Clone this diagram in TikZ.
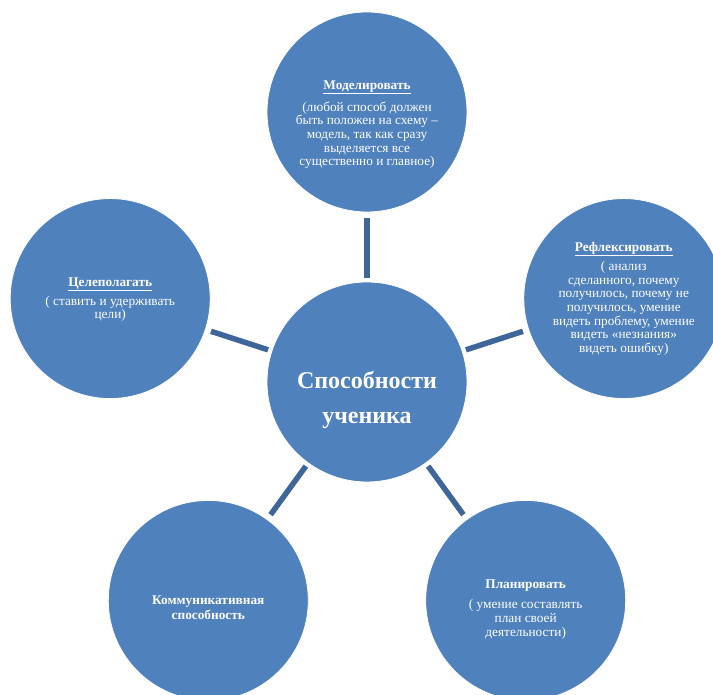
\documentclass[tikz,border=0pt]{standalone}
\usepackage{fontspec}
\setmainfont{Liberation Serif}
\usepackage{pgf,tikz}
\usetikzlibrary{arrows}
\definecolor{ballblue}{RGB}{79,129,189}
\definecolor{linkblue}{RGB}{62,102,152}

\begin{document}
\begin{tikzpicture}[line cap=round,line join=round,x=1pt,y=1pt,
  ball/.style={circle,fill=ballblue,draw=white,line width=0.8pt,minimum size=200pt,inner sep=0pt,outer sep=0pt},
  txt/.style={text=white,align=center,inner sep=0pt,font=\fontsize{13.3}{13.6}\selectfont},
  link/.style={draw=linkblue,line width=5.5pt,line cap=butt,shorten <=4pt,shorten >=6pt}]
\useasboundingbox (0,0) rectangle (713,695);
\clip (0,0) rectangle (713,695);
\begin{scope}[shift={(367,313)}]
\node[ball] (uch) at (0,0) {};
\node[ball] (mod) at (90:270) {};
\node[ball] (ref) at (18:270) {};
\node[ball] (cel) at (162:270) {};
\node[ball] (kom) at (234:270) {};
\node[ball] (plan) at (306:270) {};
\end{scope}
%
\foreach \b in {mod,ref,cel,kom,plan}
  \draw[link] (uch) -- (\b);
%
\node[txt,font=\fontsize{24}{35}\selectfont\bfseries] (uchT) at ([yshift=-18pt]uch.center) {Способности\\ученика};
\node[txt] (modT) at ([yshift=-12.5pt]mod.center) {\underline{\textbf{Моделировать}}\\[7pt]
  (любой способ должен\\быть положен на схему –\\модель, так как сразу\\выделяется все\\существенно и главное)};
\node[txt] (refT) at (ref.center) {\underline{\textbf{Рефлексировать}}\\[4.5pt]
  ( анализ\\сделанного, почему\\получилось, почему не\\получилось, умение\\видеть проблему, умение\\видеть «незнания»\\видеть ошибку)};
\node[txt] (celT) at ([yshift=-1pt]cel.center) {\underline{\textbf{Целеполагать}}\\[4pt]
  ( ставить и удерживать\\цели)};
\node[txt,font=\fontsize{13.3}{15}\selectfont\bfseries] (komT) at ([yshift=-7pt]kom.center) {Коммуникативная\\способность};
\node[txt] (planT) at ([yshift=-9pt]plan.center) {\textbf{Планировать}\\[6.5pt]
  ( умение составлять\\план своей\\деятельности)};
\end{tikzpicture}
\end{document}
